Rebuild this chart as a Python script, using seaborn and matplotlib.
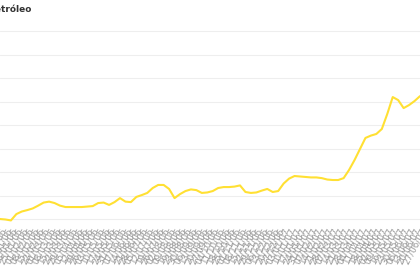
import matplotlib
matplotlib.use("Agg")
import matplotlib.pyplot as plt
import seaborn as sns
import pandas as pd

title = "Preço do petróleo"

dates = [
    "04/01/06", "11/01/06", "18/01/06", "25/01/06", "01/02/06", "08/02/06", "15/02/06", "22/02/06",
    "01/03/06", "08/03/06", "15/03/06", "22/03/06", "29/03/06", "05/04/06", "12/04/06", "19/04/06",
    "26/04/06", "03/05/06", "10/05/06", "17/05/06", "24/05/06", "31/05/06", "07/06/06", "14/06/06",
    "21/06/06", "28/06/06", "05/07/06", "12/07/06", "19/07/06", "26/07/06", "02/08/06", "09/08/06",
    "16/08/06", "23/08/06", "30/08/06", "06/09/06", "13/09/06", "20/09/06", "27/09/06", "04/10/06",
    "11/10/06", "18/10/06", "25/10/06", "01/11/06", "08/11/06", "15/11/06", "22/11/06", "29/11/06",
    "06/12/06", "13/12/06", "20/12/06", "27/12/06", "03/01/07", "10/01/07", "17/01/07", "24/01/07",
    "31/01/07", "07/02/07", "14/02/07", "21/02/07", "28/02/07", "07/03/07", "14/03/07", "21/03/07",
    "28/03/07", "04/04/07", "11/04/07", "18/04/07", "25/04/07", "02/05/07", "09/05/07", "16/05/07",
    "23/05/07", "30/05/07", "06/06/07", "13/06/07", "20/06/07", "27/06/07",
]

values = [
    50.0, 49.8, 49.4, 52.1, 53.2, 53.8, 54.5, 55.7, 57.0, 57.4,
    56.8, 55.7, 55.1, 55.1, 55.1, 55.1, 55.3, 55.5, 56.8, 57.0,
    56.0, 57.2, 58.9, 57.4, 57.2, 59.4, 60.2, 61.1, 63.2, 64.5,
    64.5, 62.8, 58.9, 60.6, 61.9, 62.6, 62.3, 61.1, 61.3, 61.9,
    63.2, 63.6, 63.6, 63.8, 64.3, 61.5, 61.1, 61.3, 62.1, 62.8,
    61.5, 61.9, 65.1, 67.2, 68.3, 68.1, 67.9, 67.7, 67.7, 67.4,
    66.8, 66.6, 66.6, 67.4, 70.9, 75.1, 79.8, 84.5, 85.5, 86.2,
    88.3, 94.7, 101.9, 100.6, 97.2, 98.5, 100.2, 102.3,
]

yticks = [50, 60, 70, 80, 90, 100, 110, 120, 130]

df = pd.DataFrame({"idx": range(len(values)), "valor": values})

sns.set_theme(style="white")
plt.rcParams["font.family"] = ["DejaVu Sans"]

fig = plt.figure(figsize=(4.2, 2.8), dpi=100)
ax = fig.add_axes([0.0, 0.201, 1.0, 0.7218])

sns.lineplot(data=df, x="idx", y="valor", ax=ax, color="#FFE033", linewidth=1.5)

ax.set_xlim(0, len(values) - 1)
ax.set_ylim(48, 134)
ax.set_yticks(yticks)
ax.grid(axis="y", color="#eeeeee", linewidth=0.8)
ax.grid(axis="x", visible=False)
for s in ax.spines.values():
    s.set_visible(False)
ax.set_xlabel("")
ax.set_ylabel("")
ax.set_xticks(range(len(dates)))
ax.set_xticklabels(dates, rotation=62, ha="right", rotation_mode="anchor",
                   fontsize=6.3, color="#999999")
ax.tick_params(axis="x", length=0, pad=2)
ax.tick_params(axis="y", length=0, labelsize=6, colors="#888888")

fig.text(31 / 420, 1 - 9 / 280, title, ha="right", va="center",
         fontsize=6.5, fontweight="bold", color="#333333")

fig.savefig("out.png", dpi=100)
